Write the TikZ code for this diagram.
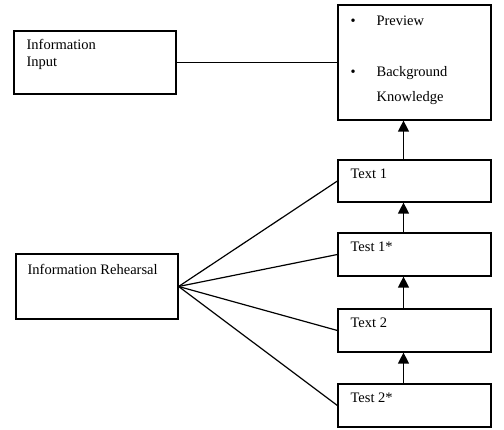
\documentclass[tikz,border=0pt]{standalone}
\usepackage{fontspec}
\setmainfont{Liberation Serif}
\usetikzlibrary{positioning,arrows.meta}
\newcommand{\boxline}{1.2pt}
\newcommand{\lblfont}{\fontsize{14.5}{17}\selectfont}
\tikzset{
  box/.style={draw, rectangle, inner sep=0pt, line width=\boxline},
  lbl/.style={inner sep=0pt, align=left, font=\lblfont},
  link/.style={line width=\boxline},
  arr/.style={line width=\boxline, -{Triangle[width=11pt,length=11pt]}}
}

\begin{document}
\begin{tikzpicture}[x=1pt,y=-1pt]
\useasboundingbox (0,0) rectangle (504,430);
% boxes
\node[box, minimum width=162pt, minimum height=63pt] (input) at (95,62.5) {};
\node[box, minimum width=162pt, minimum height=65pt] (rehearsal) at (97,286.5) {};
\node[box, minimum width=153pt, minimum height=115pt] (prior) at (414.5,62.5) {};
\node[box, minimum width=153pt, minimum height=42pt] (t1) at (414.5,181) {};
\node[box, minimum width=153pt, minimum height=43pt] (q1) at (414.5,254.5) {};
\node[box, minimum width=153pt, minimum height=43pt] (t2) at (414.5,330.5) {};
\node[box, minimum width=153pt, minimum height=43pt] (q2) at (414.5,405.5) {};
% texts
\node[lbl, below right=9pt and 13pt of input.north west] (inputtxt) {Information\\Input};
\node[lbl, below right=11pt and 12pt of rehearsal.north west] (rehearsaltxt) {Information Rehearsal};
\node[lbl, below right=9pt and 13pt of prior.north west] (priortxt)
  {\begin{tabular}{@{}p{26pt}@{}l@{}}
   {\Large\textbullet} & Preview\\[34pt]
   {\Large\textbullet} & Background\\[8pt]
               & Knowledge
   \end{tabular}};
\node[lbl, below right=9pt and 13pt of t1.north west] (t1txt) {Text 1};
\node[lbl, below right=9pt and 13pt of q1.north west] (q1txt) {Test 1*};
\node[lbl, below right=9pt and 13pt of t2.north west] (t2txt) {Text 2};
\node[lbl, below right=9pt and 13pt of q2.north west] (q2txt) {Test 2*};
% connectors
\draw[link] (input.east) -- (prior.west);
\draw[link] (rehearsal.east) -- (t1.west);
\draw[link] (rehearsal.east) -- (q1.west);
\draw[link] (rehearsal.east) -- (t2.west);
\draw[link] (rehearsal.east) -- (q2.west);
\draw[arr] ([xshift=-11pt]t1.north) -- ([xshift=-11pt]prior.south);
\draw[arr] ([xshift=-11pt]q1.north) -- ([xshift=-11pt]t1.south);
\draw[arr] ([xshift=-11pt]t2.north) -- ([xshift=-11pt]q1.south);
\draw[arr] ([xshift=-11pt]q2.north) -- ([xshift=-11pt]t2.south);
\end{tikzpicture}
\end{document}
